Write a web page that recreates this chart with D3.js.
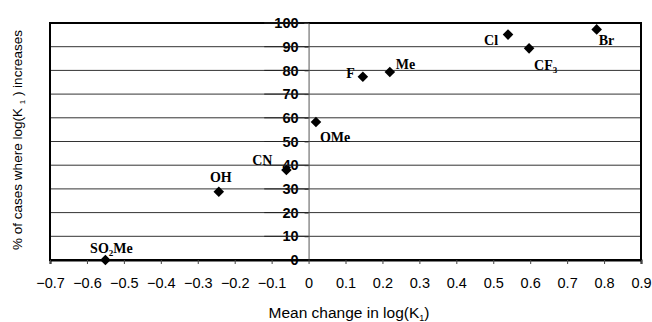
<!DOCTYPE html>
<html>
<head>
<meta charset="utf-8">
<script src="https://cdn.jsdelivr.net/npm/d3@7"></script>
<style>
  body { margin: 0; background: #fff; }
  svg { display: block; }
  .tick text { font-family: Arial, "Liberation Sans", sans-serif; }
</style>
</head>
<body>
<div id="chart"></div>
<script>
// data
const labels = ['SO2Me', 'OH', 'CN', 'OMe', 'F', 'Me', 'Cl', 'CF3', 'Br']
const meanChange = [-0.55, -0.243, -0.06, 0.02, 0.147, 0.22, 0.54, 0.597, 0.78]
const pctIncrease = [0, 28.8, 38, 58.2, 77.3, 79.3, 95.1, 89.3, 97.3]
const xTicks = [-0.7, -0.6, -0.5, -0.4, -0.3, -0.2, -0.1, 0, 0.1, 0.2, 0.3, 0.4, 0.5, 0.6, 0.7, 0.8, 0.9]
const yTicks = [0, 10, 20, 30, 40, 50, 60, 70, 80, 90, 100]
// label offsets relative to the marker [dx, dy, anchor]
const labelPos = [
  [6, -7, 'middle'], [2, -10, 'middle'], [-14, -5, 'end'], [4, 20, 'start'],
  [-8, 1, 'end'], [6, -3, 'start'], [-10, 10, 'end'], [5, 22, 'start'], [2, 16, 'start']
]

const width = 652, height = 322
const margin = { left: 50, top: 23, right: 11, bottom: 62 }

const svg = d3.select('#chart').append('svg')
  .attr('width', width)
  .attr('height', height)

const x = d3.scaleLinear().domain([-0.7, 0.9]).range([margin.left, width - margin.right])
const y = d3.scaleLinear().domain([0, 100]).range([height - margin.bottom, margin.top])

// gridlines
svg.append('g')
  .selectAll('line')
  .data(yTicks.slice(1))
  .enter().append('line')
  .attr('x1', x(-0.7)).attr('x2', x(0.9))
  .attr('y1', d => y(d)).attr('y2', d => y(d))
  .attr('stroke', '#333')
  .attr('stroke-width', 1)

// frame
svg.append('rect')
  .attr('x', x(-0.7)).attr('y', y(100))
  .attr('width', x(0.9) - x(-0.7)).attr('height', y(0) - y(100))
  .attr('fill', 'none').attr('stroke', '#000').attr('stroke-width', 2)

// y axis at x = 0
const yAxis = d3.axisLeft(y).tickValues(yTicks).tickSize(4).tickPadding(6)
const gy = svg.append('g')
  .attr('transform', 'translate(' + x(0) + ',0)')
  .call(yAxis)
gy.select('.domain').attr('stroke', '#555')
gy.selectAll('.tick line').attr('stroke', '#555')
gy.selectAll('.tick text')
  .attr('font-size', 14.5).attr('font-weight', 'bold').attr('fill', '#000')
gy.selectAll('.tick').filter(d => d === 0).select('line').remove()
// gridline passes over tick labels
svg.append('g')
  .selectAll('line')
  .data(yTicks.slice(1))
  .enter().append('line')
  .attr('x1', x(-0.12)).attr('x2', x(0))
  .attr('y1', d => y(d)).attr('y2', d => y(d))
  .attr('stroke', '#222')

// x axis
const xAxis = d3.axisBottom(x).tickValues(xTicks).tickSize(4).tickPadding(14)
  .tickFormat(d => d === 0 ? '0' : d3.format('.1f')(d))
const gx = svg.append('g')
  .attr('transform', 'translate(0,' + y(0) + ')')
  .call(xAxis)
gx.select('.domain').attr('stroke', '#000').attr('stroke-width', 2)
gx.selectAll('.tick line').attr('stroke', '#444')
gx.selectAll('.tick text').attr('font-size', 14.5).attr('fill', '#000')

// points
const pts = svg.append('g')
pts.selectAll('path')
  .data(meanChange)
  .enter().append('path')
  .attr('d', d3.symbol().type(d3.symbolSquare).size(56))
  .attr('transform', (d, i) => 'translate(' + x(d) + ',' + y(pctIncrease[i]) + ') rotate(45)')
  .attr('fill', '#000')

// labels (with subscripts)
const lab = svg.append('g')
  .attr('font-family', '"Times New Roman", "Liberation Serif", serif')
  .attr('font-size', 14)
  .attr('font-weight', 'bold')
lab.selectAll('text')
  .data(labels)
  .enter().append('text')
  .attr('x', (d, i) => x(meanChange[i]) + labelPos[i][0])
  .attr('y', (d, i) => y(pctIncrease[i]) + labelPos[i][1])
  .attr('text-anchor', (d, i) => labelPos[i][2])
  .each(function (d) {
    const t = d3.select(this)
    const m = d.match(/^([A-Za-z]+?)(\d)(.*)$/)
    if (m) {
      t.append('tspan').text(m[1])
      t.append('tspan').attr('font-size', 9).attr('dy', 3).text(m[2])
      if (m[3]) t.append('tspan').attr('dy', -3).text(m[3])
    } else {
      t.text(d)
    }
  })

// axis titles
const title = svg.append('text')
  .attr('x', 349).attr('y', 318)
  .attr('text-anchor', 'middle')
  .attr('font-family', 'Arial, "Liberation Sans", sans-serif')
  .attr('font-size', 15.5)
title.append('tspan').text('Mean change in log(K')
title.append('tspan').attr('font-size', 9).attr('dy', 3).text('1')
title.append('tspan').attr('dy', -3).text(')')

const ytitle = svg.append('text')
  .attr('transform', 'translate(22,140) rotate(-90)')
  .attr('text-anchor', 'middle')
  .attr('font-family', 'Arial, "Liberation Sans", sans-serif')
  .attr('font-size', 13.5)
ytitle.append('tspan').text('% of cases where log(K ')
ytitle.append('tspan').attr('font-size', 8).attr('dy', 3).text('1')
ytitle.append('tspan').attr('dy', -3).text(' ) increases')
</script>
</body>
</html>
